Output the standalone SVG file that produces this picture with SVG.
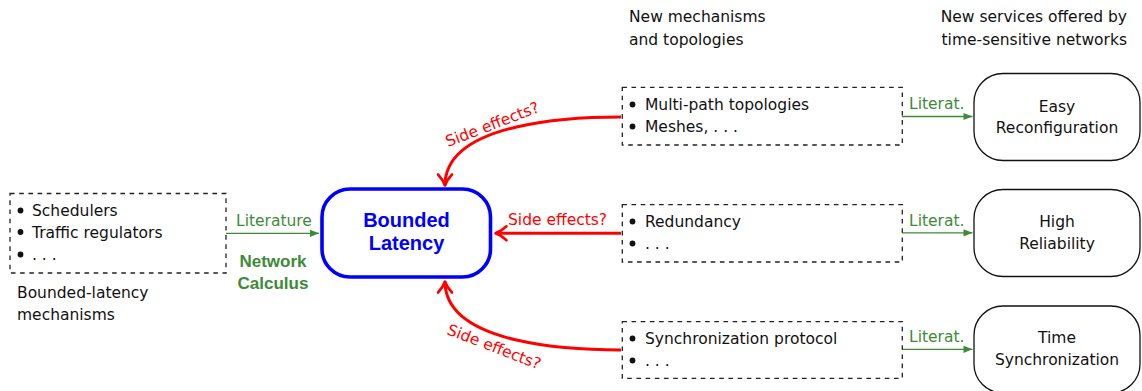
<svg xmlns="http://www.w3.org/2000/svg" width="1142" height="391" viewBox="0 0 1142 391">
  <style>
    text { font-family: "DejaVu Sans", "Liberation Sans", sans-serif; font-size: 15.5px; fill: #111; }
    .bold { font-family: "Liberation Sans", Arial, sans-serif; font-weight: bold; }
    .big { font-size: 20px; }
    .calc { font-size: 17px; }
    .green { fill: #3d8b37; }
    .red { fill: #ff0000; }
    .blue { fill: #0000ff; }
    .mid { text-anchor: middle; }
    .end { text-anchor: end; }
    .dbox { fill: none; stroke: #222; stroke-width: 1.3; stroke-dasharray: 4.6 4.6; }
    .svc { fill: #fff; stroke: #111; stroke-width: 1.3; }
    .core { fill: #fff; stroke: #0000ff; stroke-width: 3.6; }
    .lit { fill: none; stroke: #3d8b37; stroke-width: 1.3; marker-end: url(#greenTip); }
    .side { fill: none; stroke: #ff0000; stroke-width: 3; marker-end: url(#redTo); }
    .dot { fill: #111; }
  </style>
  <defs>
    <marker id="redTo" markerUnits="userSpaceOnUse" markerWidth="24" markerHeight="24" viewBox="-16 -12 24 24" refX="0" refY="0" orient="auto" overflow="visible">
      <path d="M -11 -7 C -7 -3.2, -3 -1, 0 0 C -3 1, -7 3.2, -11 7" fill="none" stroke="#ff0000" stroke-width="2.6" stroke-linecap="round" stroke-linejoin="round"/>
    </marker>
    <marker id="greenTip" markerUnits="userSpaceOnUse" markerWidth="14" markerHeight="10" viewBox="-10 -5 14 10" refX="0" refY="0" orient="auto" overflow="visible">
      <path d="M -9 -3.6 L 0 0 L -9 3.6 Z" fill="#3d8b37"/>
    </marker>
  </defs>

  <!-- column captions -->
  <g id="captions">
    <text x="629" y="22">New mechanisms</text>
    <text x="629" y="45">and topologies</text>
    <text class="end" x="1127" y="22">New services offered by</text>
    <text class="end" x="1127" y="45">time-sensitive networks</text>
  </g>

  <!-- connectors -->
  <g id="connectors">
    <path class="lit" d="M 226 233.3 L 319 233.3"/>
    <path class="lit" d="M 902 116.5 L 972.5 116.5"/>
    <path class="lit" d="M 902 232.8 L 972.5 232.8"/>
    <path class="lit" d="M 902 349.3 L 972.5 349.3"/>

    <path class="side" d="M 621 117 C 580 117, 445 120, 445 185.5"/>
    <path class="side" d="M 621 233.3 L 495.5 233.3"/>
    <path class="side" d="M 621 350 C 580 350, 445 347, 445 281.5"/>

    <text class="green" x="236" y="226">Literature</text>
    <text class="green bold calc mid" x="273" y="267">Network</text>
    <text class="green bold calc mid" x="273" y="289">Calculus</text>

    <text class="green" x="909" y="109.3">Literat.</text>
    <text class="green" x="909" y="225.7">Literat.</text>
    <text class="green" x="909" y="342.3">Literat.</text>

    <text class="red" transform="translate(448 147) rotate(-21)">Side effects?</text>
    <text class="red" x="508" y="225">Side effects?</text>
    <text class="red" transform="translate(446 334) rotate(21)">Side effects?</text>
  </g>

  <!-- bounded-latency mechanisms -->
  <g id="node-mechanisms">
    <rect class="dbox" x="10" y="193.5" width="216" height="79.5"/>
    <circle class="dot" cx="20.5" cy="210.5" r="2.9"/>
    <circle class="dot" cx="20.5" cy="232" r="2.9"/>
    <circle class="dot" cx="20.5" cy="254.5" r="2.9"/>
    <text x="32" y="216">Schedulers</text>
    <text x="32" y="237.5">Traffic regulators</text>
    <text x="32" y="260">. . .</text>
    <text x="17" y="298">Bounded-latency</text>
    <text x="17" y="320">mechanisms</text>
  </g>

  <!-- central goal -->
  <g id="node-bounded-latency">
    <rect class="core" x="322" y="189" width="168.5" height="88" rx="28" ry="28"/>
    <text class="blue bold big mid" x="406.5" y="227.3">Bounded</text>
    <text class="blue bold big mid" x="406.5" y="250">Latency</text>
  </g>

  <!-- new mechanisms and topologies -->
  <g id="node-multipath">
    <rect class="dbox" x="622.3" y="87.3" width="280" height="57.7"/>
    <circle class="dot" cx="632.5" cy="104.5" r="2.9"/>
    <circle class="dot" cx="632.5" cy="126.5" r="2.9"/>
    <text x="645" y="110">Multi-path topologies</text>
    <text x="645" y="132">Meshes, . . .</text>
  </g>

  <g id="node-redundancy">
    <rect class="dbox" x="622.3" y="204.6" width="280" height="57.4"/>
    <circle class="dot" cx="632.5" cy="221.5" r="2.9"/>
    <circle class="dot" cx="632.5" cy="243.5" r="2.9"/>
    <text x="645" y="227">Redundancy</text>
    <text x="645" y="249">. . .</text>
  </g>

  <g id="node-synchronization">
    <rect class="dbox" x="622.3" y="321.6" width="280" height="56.7"/>
    <circle class="dot" cx="632.5" cy="338.5" r="2.9"/>
    <circle class="dot" cx="632.5" cy="360.5" r="2.9"/>
    <text x="645" y="344">Synchronization protocol</text>
    <text x="645" y="366">. . .</text>
  </g>

  <!-- services offered -->
  <g id="node-reconfiguration">
    <rect class="svc" x="974" y="73.5" width="166" height="87" rx="29" ry="29"/>
    <text class="mid" x="1057" y="111.5">Easy</text>
    <text class="mid" x="1057" y="132.7">Reconfiguration</text>
  </g>

  <g id="node-reliability">
    <rect class="svc" x="974" y="189.5" width="166" height="87" rx="29" ry="29"/>
    <text class="mid" x="1057" y="226.7">High</text>
    <text class="mid" x="1057" y="249">Reliability</text>
  </g>

  <g id="node-time-sync">
    <rect class="svc" x="974" y="306" width="166" height="87" rx="29" ry="29"/>
    <text class="mid" x="1057" y="343.3">Time</text>
    <text class="mid" x="1057" y="365">Synchronization</text>
  </g>
</svg>
